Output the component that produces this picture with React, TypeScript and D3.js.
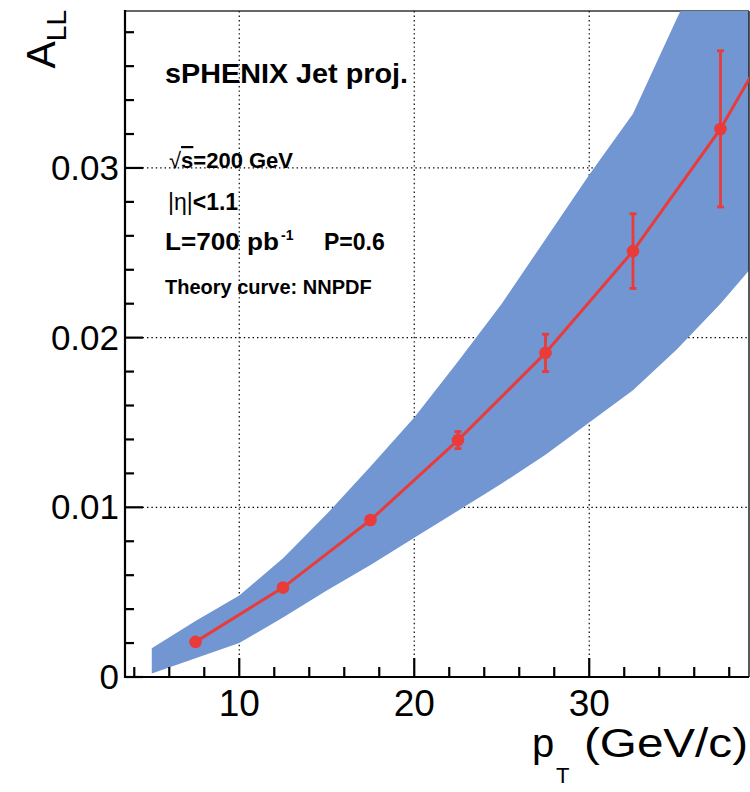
import React from "react";
import * as d3 from "d3";

// ---- data ----
const ptBins = [7.5, 12.5, 17.5, 22.5, 27.5, 32.5, 37.5];
const allValues = [0.00207, 0.00527, 0.00925, 0.01396, 0.0191, 0.0251, 0.0323];
const allErrors = [0.0001, 0.00012, 0.0002, 0.0005, 0.0011, 0.0022, 0.0046];

const theoryPt = [7.5, 12.5, 17.5, 22.5, 27.5, 32.5, 37.5, 40];
const theoryAll = [0.00207, 0.00527, 0.00925, 0.01396, 0.0191, 0.0251, 0.0323, 0.0368];

const bandPt = [5, 7.5, 10, 12.5, 15, 17.5, 20, 22.5, 25, 27.5, 30, 32.5, 35, 37.5, 40];
const bandLow = [0.0002, 0.0011, 0.002, 0.0035, 0.0051, 0.0066, 0.0082, 0.0098, 0.0114, 0.0131, 0.015, 0.0169, 0.0193, 0.022, 0.025];
const bandHigh = [0.0017, 0.0033, 0.0048, 0.007, 0.0096, 0.0124, 0.0153, 0.0186, 0.022, 0.0258, 0.0296, 0.0332, 0.0388, 0.044, 0.0495];

const xMajorTicks = [10, 20, 30];
const xMinorTicks = [4, 6, 8, 12, 14, 16, 18, 22, 24, 26, 28, 32, 34, 36, 38];
const yMajorTicks = [0, 0.01, 0.02, 0.03];
const yMinorTicks = [0.002, 0.004, 0.006, 0.008, 0.012, 0.014, 0.016, 0.018, 0.022, 0.024, 0.026, 0.028, 0.032, 0.034, 0.036, 0.038];

const xDomain = [3.47, 39.13];
const yDomain = [0, 0.03925];

// ---- layout ----
const W = 750;
const H = 792;
const L = 125;
const R = 749;
const T = 11;
const B = 677;

const FONT = "'Liberation Sans', Arial, Helvetica, sans-serif";
const BAND = "#7196d2";
const RED = "#ea3b3b";

export default function App() {
  const x = d3.scaleLinear().domain(xDomain).range([L, R]);
  const y = d3.scaleLinear().domain(yDomain).range([B, T]);

  const bandData = bandPt.map((p, i) => ({ p, lo: bandLow[i], hi: bandHigh[i] }));
  const area = d3
    .area<{ p: number; lo: number; hi: number }>()
    .x((d) => x(d.p))
    .y0((d) => y(d.lo))
    .y1((d) => y(d.hi));

  const theory = theoryPt.map((p, i) => [p, theoryAll[i]] as [number, number]);
  const line = d3
    .line<[number, number]>()
    .x((d) => x(d[0]))
    .y((d) => y(d[1]));

  const fmtY = (v: number) => (v === 0 ? "0" : d3.format(".2f")(v));

  const dot = "1.4 3";

  return (
    <svg
      width={W}
      height={H}
      style={{ position: "absolute", left: 0, top: 0, background: "#fff" }}
      fontFamily={FONT}
    >
      <defs>
        <clipPath id="plotClip">
          <rect x={L} y={T} width={R - L} height={B - T} />
        </clipPath>
      </defs>
      <rect x={0} y={0} width={W} height={H} fill="#fff" />

      {/* top frame */}
      <line x1={L} x2={R} y1={T} y2={T} stroke="#333" strokeWidth={1.5} />

      {/* grid */}
      <g stroke="#000" strokeWidth={1.2} strokeDasharray={dot}>
        {xMajorTicks.map((t) => (
          <line key={"gx" + t} x1={x(t)} x2={x(t)} y1={B} y2={T} />
        ))}
        {yMajorTicks
          .filter((t) => t > 0)
          .map((t) => (
            <line key={"gy" + t} x1={L} x2={R} y1={y(t)} y2={y(t)} />
          ))}
      </g>

      {/* theory uncertainty band */}
      <path d={area(bandData) || ""} fill={BAND} clipPath="url(#plotClip)" />

      {/* right frame */}
      <line x1={R} x2={R} y1={T} y2={B} stroke="#222" strokeWidth={1.5} />

      {/* axes */}
      <g stroke="#000" strokeWidth={2.2}>
        <line x1={L} x2={L} y1={T - 1} y2={B + 1} />
        <line x1={L - 1} x2={R} y1={B} y2={B} />
        {yMajorTicks.map((t) => (
          <line key={"ytM" + t} x1={L} x2={L + 18} y1={y(t)} y2={y(t)} />
        ))}
        {yMinorTicks.map((t) => (
          <line key={"ytm" + t} x1={L} x2={L + 9} y1={y(t)} y2={y(t)} />
        ))}
        {xMajorTicks.map((t) => (
          <line key={"xtM" + t} x1={x(t)} x2={x(t)} y1={B} y2={B - 19} />
        ))}
        {xMinorTicks.map((t) => (
          <line key={"xtm" + t} x1={x(t)} x2={x(t)} y1={B} y2={B - 10} />
        ))}
      </g>

      {/* tick labels */}
      <g fill="#000">
        {yMajorTicks.map((t) => (
          <text key={"yl" + t} x={L - 6} y={y(t) + 12} textAnchor="end" fontSize={35}>
            {fmtY(t)}
          </text>
        ))}
        {xMajorTicks.map((t) => (
          <text key={"xl" + t} x={x(t)} y={B + 39} textAnchor="middle" fontSize={37}>
            {t}
          </text>
        ))}
      </g>

      {/* theory curve */}
      <path
        d={line(theory) || ""}
        fill="none"
        stroke={RED}
        strokeWidth={3}
        clipPath="url(#plotClip)"
      />

      {/* projected points with errors */}
      <g stroke={RED} strokeWidth={2.8} fill={RED}>
        {ptBins.map((p, i) => {
          const cx = x(p);
          const y1 = y(allValues[i] + allErrors[i]);
          const y0 = y(allValues[i] - allErrors[i]);
          return (
            <g key={"pt" + p}>
              <line x1={cx} x2={cx} y1={y1} y2={y0} />
              <line x1={cx - 3.5} x2={cx + 3.5} y1={y1} y2={y1} />
              <line x1={cx - 3.5} x2={cx + 3.5} y1={y0} y2={y0} />
              <circle cx={cx} cy={y(allValues[i])} r={6.3} stroke="none" />
            </g>
          );
        })}
      </g>

      {/* axis titles */}
      <text transform={`translate(55,10) rotate(-90)`} textAnchor="end" fill="#000">
        <tspan fontSize={41}>A</tspan>
        <tspan fontSize={28} dy={11}>
          LL
        </tspan>
      </text>
      <g fill="#000">
        <text x={532} y={757} fontSize={40}>
          p
        </text>
        <text x={556} y={783} fontSize={22}>
          T
        </text>
        <text
          x={748}
          y={757}
          fontSize={40}
          textAnchor="end"
          textLength={164}
          lengthAdjust="spacingAndGlyphs"
        >
          (GeV/c)
        </text>
      </g>

      {/* info text */}
      <g fontWeight="bold" fill="#000">
        <text x={165} y={83} fontSize={27} textLength={243} lengthAdjust="spacingAndGlyphs">
          sPHENIX Jet proj.
        </text>
        <text x={169} y={168} fontSize={22}>
          <tspan fontWeight="normal">√</tspan>
          <tspan style={{ textDecoration: "overline" }}>s</tspan>=200 GeV
        </text>
        <text x={168} y={210} fontSize={23}>
          <tspan fontWeight="normal">|η|</tspan>&lt;1.1
        </text>
        <text x={165} y={250} fontSize={23} textLength={114} lengthAdjust="spacingAndGlyphs">
          L=700 pb
        </text>
        <text x={281} y={240} fontSize={14}>
          -1
        </text>
        <text x={324} y={250} fontSize={23}>
          P=0.6
        </text>
        <text x={165} y={294} fontSize={20}>
          Theory curve: NNPDF
        </text>
      </g>
    </svg>
  );
}
